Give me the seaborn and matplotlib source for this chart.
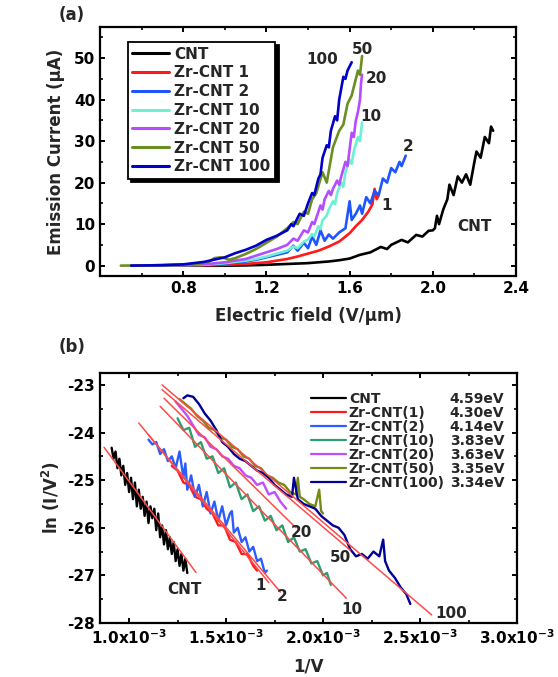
import matplotlib
matplotlib.use("Agg")
import matplotlib.pyplot as plt
import numpy as np
import pandas as pd
import seaborn as sns
from matplotlib.ticker import MultipleLocator, FixedLocator, FuncFormatter
from matplotlib.lines import Line2D

# ---------------- Panel (a): emission current vs field ----------------
series_a = ["CNT", "Zr-CNT 1", "Zr-CNT 2", "Zr-CNT 10", "Zr-CNT 20", "Zr-CNT 50", "Zr-CNT 100"]
colors_a = ["#000000", "#ff1a1a", "#1f55ff", "#6df0d6", "#b44cff", "#6b8e23", "#0000c8"]

cnt_E = [0.55, 0.8, 1.0, 1.1, 1.2, 1.3, 1.4, 1.5, 1.55, 1.6, 1.65, 1.7, 1.75, 1.78, 1.8, 1.85, 1.88,
         1.92, 1.95, 1.98, 2.0, 2.01, 2.02, 2.03, 2.05, 2.07, 2.08, 2.1, 2.12, 2.14, 2.16, 2.18, 2.2,
         2.21, 2.23, 2.25, 2.27, 2.28, 2.29]
cnt_I = [0, 0, 0, 0.05, 0.2, 0.4, 0.6, 1.0, 1.3, 1.7, 2.6, 3.2, 4.5, 4.0, 5.0, 6.2, 5.6,
         7.4, 7.0, 8.4, 8.5, 9.0, 12.0, 10.0, 13.5, 16.0, 19.5, 17.0, 21.5, 20.0, 22.0, 19.5, 25.0,
         27.5, 26.0, 31.0, 29.5, 33.5, 32.5]

z1_E = [0.55, 0.9, 1.0, 1.1, 1.2, 1.25, 1.3, 1.35, 1.4, 1.45, 1.5, 1.55, 1.6, 1.63, 1.66, 1.69,
        1.71, 1.72, 1.73, 1.74]
z1_I = [0, 0.1, 0.2, 0.4, 0.8, 1.2, 1.6, 2.2, 2.9, 3.6, 4.6, 5.8, 7.8, 9.5, 11.0, 13.0,
        14.8, 18.5, 16.0, 17.0]

z2_E = [0.55, 0.9, 1.0, 1.1, 1.15, 1.2, 1.25, 1.3, 1.33, 1.35, 1.38, 1.4, 1.42, 1.44, 1.46, 1.48,
        1.5, 1.52, 1.55, 1.58, 1.6, 1.61, 1.63, 1.65, 1.66, 1.68, 1.7, 1.72, 1.74, 1.76, 1.78,
        1.8, 1.82, 1.84, 1.85, 1.87]
z2_I = [0, 0.2, 0.5, 1.0, 1.4, 2.0, 2.6, 3.2, 4.8, 3.6, 5.5, 4.2, 7.0, 5.0, 8.5, 6.0,
        7.5, 6.5, 8.0, 9.0, 15.5, 11.0, 12.5, 14.5, 12.5, 16.5, 15.0, 18.0, 17.0, 21.0, 20.0,
        23.5, 22.5, 25.0, 24.0, 26.5]

z10_E = [0.55, 0.9, 1.0, 1.1, 1.15, 1.2, 1.25, 1.3, 1.33, 1.35, 1.38, 1.4, 1.42, 1.43, 1.45, 1.46,
         1.47, 1.49, 1.5, 1.52, 1.53, 1.54, 1.56, 1.57, 1.58, 1.6, 1.61, 1.62, 1.64, 1.65, 1.66]
z10_I = [0, 0.2, 0.6, 1.2, 1.6, 2.2, 2.9, 3.6, 4.6, 4.2, 5.8, 6.3, 7.6, 7.0, 9.5, 8.8,
         11.0, 12.0, 13.5, 15.5, 14.8, 17.5, 20.0, 19.0, 22.5, 25.5, 24.5, 27.5, 31.0, 30.0, 34.5]

z20_E = [0.55, 0.9, 1.0, 1.1, 1.15, 1.2, 1.25, 1.3, 1.33, 1.35, 1.38, 1.4, 1.42, 1.43, 1.46, 1.47,
         1.48, 1.5, 1.51, 1.52, 1.54, 1.55, 1.56, 1.58, 1.59, 1.6, 1.61, 1.62, 1.63, 1.64, 1.65,
         1.655, 1.66]
z20_I = [0, 0.3, 0.8, 1.6, 2.4, 3.2, 4.0, 5.0, 6.5, 6.0, 8.5, 8.0, 10.5, 10.0, 14.5, 13.5,
         16.0, 18.0, 17.0, 18.5, 20.5, 19.5, 21.5, 25.0, 24.0, 28.0, 32.0, 31.0, 35.0, 37.0, 40.0,
         44.0, 46.0]

z50_E = [0.5, 0.7, 0.85, 0.92, 0.95, 0.98, 1.0, 1.02, 1.05, 1.1, 1.15, 1.2, 1.25, 1.3, 1.33, 1.35,
         1.38, 1.4, 1.42, 1.44, 1.47, 1.49, 1.52, 1.55, 1.57, 1.59, 1.61, 1.62, 1.64, 1.65, 1.66]
z50_I = [0, 0.1, 0.3, 0.8, 1.8, 2.0, 1.8, 1.4, 1.8, 2.8, 4.0, 5.5, 7.0, 9.0, 10.5, 10.0,
         13.0, 12.5, 16.0, 17.5, 22.5, 20.0, 28.5, 32.5, 34.0, 39.0, 41.0, 43.0, 47.0, 46.0, 50.5]

z100_E = [0.55, 0.7, 0.8, 0.9, 1.0, 1.05, 1.1, 1.15, 1.2, 1.25, 1.3, 1.32, 1.33, 1.36, 1.38, 1.4,
          1.42, 1.43, 1.45, 1.46, 1.47, 1.49, 1.5, 1.51, 1.53, 1.54, 1.55, 1.57, 1.58, 1.59, 1.61]
z100_I = [0, 0.1, 0.3, 0.9, 2.0, 3.0, 3.8, 4.8, 6.2, 7.2, 8.5, 10.0, 9.5, 12.5, 12.0, 15.0,
          17.5, 17.0, 21.0, 22.0, 26.0, 29.0, 28.5, 32.5, 36.0, 35.0, 40.0, 45.5, 45.0, 47.0, 49.0]

labels_a = ["100", "50", "20", "10", "2", "1", "CNT"]
labels_a_x = [1.47, 1.66, 1.73, 1.70, 1.88, 1.78, 2.20]
labels_a_y = [49.7, 52.0, 45.0, 36.0, 28.8, 14.5, 9.4]

# ---------------- Panel (b): F-N plot ----------------
series_b = ["CNT", "Zr-CNT(1)", "Zr-CNT(2)", "Zr-CNT(10)", "Zr-CNT(20)", "Zr-CNT(50)", "Zr-CNT(100)"]
colors_b = ["#000000", "#ff1a1a", "#2a5cff", "#2e9e6e", "#c04cff", "#738a14", "#000096"]
work_fn = ["4.59eV", "4.30eV", "4.14eV", "3.83eV", "3.63eV", "3.35eV", "3.34eV"]

# x values in units of 1e-3 (1/V)
cntb_x = [0.91, 0.92, 0.93, 0.94, 0.95, 0.96, 0.97, 0.98, 0.99, 1.00, 1.01, 1.02, 1.03, 1.04,
          1.05, 1.06, 1.07, 1.08, 1.09, 1.10, 1.11, 1.12, 1.13, 1.14, 1.15, 1.16, 1.17, 1.18,
          1.19, 1.20, 1.21, 1.22, 1.23, 1.24, 1.25, 1.26, 1.27, 1.28, 1.29, 1.30]
cntb_y = [-24.32, -24.55, -24.40, -24.75, -24.55, -24.90, -24.70, -25.10, -24.85, -25.25,
          -24.95, -25.40, -25.05, -25.55, -25.20, -25.60, -25.35, -25.75, -25.45, -25.90,
          -25.55, -25.80, -25.60, -26.05, -25.70, -26.20, -25.95, -26.35, -26.05, -26.45,
          -26.20, -26.55, -26.30, -26.70, -26.45, -26.80, -26.55, -26.90, -26.65, -26.95]

z1b_x = [1.22, 1.25, 1.28, 1.31, 1.34, 1.37, 1.40, 1.43, 1.46, 1.49, 1.52, 1.55, 1.58, 1.61,
         1.64, 1.66]
z1b_y = [-24.70, -24.80, -25.05, -25.10, -25.35, -25.40, -25.60, -25.70, -25.95, -25.95,
         -26.25, -26.30, -26.55, -26.55, -26.80, -26.90]

z2b_x = [1.10, 1.12, 1.14, 1.16, 1.18, 1.20, 1.22, 1.24, 1.26, 1.28, 1.29, 1.30, 1.32, 1.34,
         1.36, 1.38, 1.40, 1.42, 1.44, 1.46, 1.48, 1.50, 1.52, 1.53, 1.54, 1.56, 1.58, 1.60,
         1.62, 1.64, 1.66, 1.68, 1.70, 1.71]
z2b_y = [-24.15, -24.25, -24.20, -24.45, -24.35, -24.60, -24.50, -24.75, -24.40, -24.95,
         -24.65, -25.20, -24.90, -25.35, -25.10, -25.55, -25.25, -25.70, -25.45, -25.85,
         -25.55, -25.95, -25.70, -25.65, -26.10, -26.00, -26.30, -26.20, -26.50, -26.40,
         -26.70, -26.65, -26.95, -26.90]

z10b_x = [1.25, 1.28, 1.31, 1.34, 1.37, 1.40, 1.43, 1.46, 1.49, 1.52, 1.55, 1.58, 1.61, 1.64,
          1.67, 1.70, 1.73, 1.76, 1.79, 1.82, 1.85, 1.88, 1.91, 1.94, 1.97, 2.00, 2.02, 2.04]
z10b_y = [-23.70, -23.95, -23.90, -24.30, -24.20, -24.55, -24.50, -24.85, -24.75, -25.15,
          -25.05, -25.40, -25.30, -25.65, -25.55, -25.85, -25.75, -26.05, -25.95, -26.30,
          -26.20, -26.50, -26.45, -26.75, -26.70, -27.00, -26.95, -27.20]

z20b_x = [1.24, 1.27, 1.30, 1.33, 1.36, 1.39, 1.42, 1.45, 1.48, 1.51, 1.54, 1.57, 1.60, 1.63,
          1.66, 1.69, 1.72, 1.75, 1.78, 1.81]
z20b_y = [-23.35, -23.50, -23.65, -23.85, -24.05, -24.10, -24.30, -24.35, -24.50, -24.55,
          -24.70, -24.75, -24.90, -24.95, -25.10, -25.05, -25.30, -25.25, -25.45, -25.60]

z50b_x = [1.26, 1.29, 1.32, 1.35, 1.38, 1.41, 1.44, 1.47, 1.50, 1.53, 1.56, 1.59, 1.62, 1.65,
          1.68, 1.71, 1.74, 1.77, 1.80, 1.83, 1.86, 1.87, 1.88, 1.90, 1.93, 1.96, 1.98, 1.99, 2.00]
z50b_y = [-23.30, -23.40, -23.50, -23.65, -23.75, -23.90, -23.95, -24.10, -24.15, -24.30,
          -24.35, -24.50, -24.55, -24.70, -24.75, -24.90, -24.95, -25.05, -25.10, -25.25,
          -25.30, -24.95, -25.35, -25.40, -25.50, -25.55, -25.20, -25.65, -25.70]

z100b_x = [1.28, 1.30, 1.33, 1.36, 1.39, 1.42, 1.45, 1.48, 1.51, 1.54, 1.57, 1.60, 1.63, 1.66,
           1.69, 1.72, 1.75, 1.78, 1.81, 1.84, 1.85, 1.87, 1.90, 1.93, 1.96, 1.99, 2.02, 2.05,
           2.08, 2.11, 2.14, 2.17, 2.20, 2.23, 2.26, 2.29, 2.31, 2.32, 2.34, 2.37, 2.40, 2.43, 2.45]
z100b_y = [-23.28, -23.22, -23.25, -23.40, -23.60, -23.75, -23.95, -24.20, -24.30, -24.45,
           -24.55, -24.60, -24.70, -24.80, -24.85, -24.95, -25.10, -25.20, -25.30, -25.35,
           -24.95, -25.40, -25.50, -25.55, -25.60, -25.75, -25.85, -25.95, -26.00, -26.15,
           -26.45, -26.60, -26.55, -26.65, -26.50, -26.60, -26.25, -26.70, -26.90, -27.05,
           -27.25, -27.40, -27.60]

# linear fits: start / end points (x in 1e-3 units)
fit_names = ["CNT", "Zr-CNT(1)", "Zr-CNT(2)", "Zr-CNT(10)", "Zr-CNT(20)", "Zr-CNT(50)", "Zr-CNT(100)"]
fit_x0 = [0.871, 1.05, 1.10, 1.16, 1.18, 1.17, 1.17]
fit_y0 = [-24.31, -23.80, -24.05, -23.45, -23.28, -23.10, -23.00]
fit_x1 = [1.345, 1.72, 1.78, 2.12, 1.86, 2.14, 2.56]
fit_y1 = [-26.94, -27.15, -27.35, -27.48, -26.00, -26.47, -27.83]

labels_b = ["CNT", "1", "2", "20", "50", "10", "100"]
labels_b_x = [1.285, 1.68, 1.79, 1.89, 2.09, 2.15, 2.66]
labels_b_y = [-27.30, -27.22, -27.45, -26.10, -26.62, -27.72, -27.80]

# ---------------- style ----------------
sns.set_style("ticks")
plt.rcParams["font.family"] = ["DejaVu Sans"]
plt.rcParams["font.weight"] = "bold"
plt.rcParams["axes.labelweight"] = "bold"
plt.rcParams["mathtext.default"] = "bf"
plt.rcParams["axes.linewidth"] = 1.6
for ax_ in ("xtick", "ytick"):
    plt.rcParams[f"{ax_}.direction"] = "in"
    plt.rcParams[f"{ax_}.major.size"] = 3.5
    plt.rcParams[f"{ax_}.minor.size"] = 2.0
    plt.rcParams[f"{ax_}.major.width"] = 1.4
    plt.rcParams[f"{ax_}.minor.width"] = 1.2
    plt.rcParams[f"{ax_}.labelsize"] = 11
    plt.rcParams[f"{ax_}.color"] = "black"
plt.rcParams["xtick.top"] = True
plt.rcParams["ytick.right"] = True

W, H = 558, 677
fig = plt.figure(figsize=(W / 100, H / 100), dpi=100)
fig.patch.set_facecolor("white")


def box(l, t, r, b):
    return [l / W, 1 - b / H, (r - l) / W, (b - t) / H]


ax1 = fig.add_axes(box(100, 27, 516, 276))
ax2 = fig.add_axes(box(100, 373, 517, 623))

# ---- panel (a) ----
xs_a = [cnt_E, z1_E, z2_E, z10_E, z20_E, z50_E, z100_E]
ys_a = [cnt_I, z1_I, z2_I, z10_I, z20_I, z50_I, z100_I]
df_a = pd.concat([pd.DataFrame({"field": x, "current": y, "series": s})
                  for x, y, s in zip(xs_a, ys_a, series_a)], ignore_index=True)
sns.lineplot(data=df_a, x="field", y="current", hue="series", hue_order=series_a,
             palette=colors_a, sort=False, estimator=None, lw=1.9, legend=False, ax=ax1)

ax1.set_xlim(0.4, 2.4)
ax1.set_ylim(-2.5, 57.5)
ax1.xaxis.set_major_locator(FixedLocator([0.8, 1.2, 1.6, 2.0, 2.4]))
ax1.xaxis.set_minor_locator(MultipleLocator(0.2))
ax1.xaxis.set_major_formatter(FuncFormatter(lambda v, p: f"{v:.1f}"))
ax1.yaxis.set_major_locator(MultipleLocator(10))
ax1.yaxis.set_minor_locator(MultipleLocator(5))
ax1.set_xlabel("Electric field (V/μm)", fontsize=12, fontweight="bold", labelpad=8)
ax1.set_ylabel("Emission Current (μA)", fontsize=12, fontweight="bold", labelpad=6)
for sp in ax1.spines.values():
    sp.set_visible(True)
    sp.set_color("black")

handles_a = [Line2D([], [], color=c, lw=2.2) for c in colors_a]
leg_a = ax1.legend(handles_a, series_a, loc="upper left", bbox_to_anchor=(0.067, 0.94),
                   borderaxespad=0, handlelength=2.4, handletextpad=0.35,
                   borderpad=0.3, labelspacing=0.25, frameon=True, fancybox=False,
                   shadow={"ox": 2.5, "oy": -2.5, "facecolor": "black", "edgecolor": "black", "alpha": 1},
                   prop={"weight": "bold", "size": 11})
leg_a.get_frame().set_edgecolor("black")
leg_a.get_frame().set_linewidth(1.3)
leg_a.get_frame().set_alpha(1)

for t, x, y in zip(labels_a, labels_a_x, labels_a_y):
    ax1.text(x, y, t, ha="center", va="center", fontsize=11, fontweight="bold")

# ---- panel (b) ----
xs_b = [cntb_x, z1b_x, z2b_x, z10b_x, z20b_x, z50b_x, z100b_x]
ys_b = [cntb_y, z1b_y, z2b_y, z10b_y, z20b_y, z50b_y, z100b_y]
df_b = pd.concat([pd.DataFrame({"invV": np.array(x) * 1e-3, "lnIV2": y, "series": s})
                  for x, y, s in zip(xs_b, ys_b, series_b)], ignore_index=True)
sns.lineplot(data=df_b, x="invV", y="lnIV2", hue="series", hue_order=series_b,
             palette=colors_b, sort=False, estimator=None, lw=1.7, legend=False, ax=ax2)

df_fit = pd.concat([pd.DataFrame({"invV": np.array([a, b]) * 1e-3, "lnIV2": [c, d], "fit": n})
                    for a, b, c, d, n in zip(fit_x0, fit_x1, fit_y0, fit_y1, fit_names)],
                   ignore_index=True)
sns.lineplot(data=df_fit, x="invV", y="lnIV2", units="fit", estimator=None, sort=False,
             color="#ff4a4a", lw=1.1, legend=False, ax=ax2)

ax2.set_xlim(0.85e-3, 3.0e-3)
ax2.set_ylim(-28, -22.75)
ax2.xaxis.set_major_locator(FixedLocator([1.0e-3, 1.5e-3, 2.0e-3, 2.5e-3, 3.0e-3]))
ax2.xaxis.set_minor_locator(MultipleLocator(0.25e-3))
ax2.xaxis.set_major_formatter(FuncFormatter(lambda v, p: f"{v * 1e3:.1f}x10$^{{-3}}$"))
ax2.yaxis.set_major_locator(MultipleLocator(1))
ax2.yaxis.set_minor_locator(MultipleLocator(0.5))
ax2.yaxis.set_major_formatter(FuncFormatter(lambda v, p: f"{int(round(v))}"))
ax2.set_xlabel("1/V", fontsize=12, fontweight="bold", labelpad=8)
ax2.set_ylabel("ln (I/V$^{2}$)", fontsize=12, fontweight="bold", labelpad=4)
for sp in ax2.spines.values():
    sp.set_visible(True)
    sp.set_color("black")

handles_b = [Line2D([], [], color=c, lw=1.6) for c in colors_b] + \
            [Line2D([], [], linestyle="none") for _ in colors_b]
leg_b = ax2.legend(handles_b, series_b + work_fn, ncol=2, loc="upper left",
                   bbox_to_anchor=(0.50, 0.935), borderaxespad=0, frameon=False,
                   handlelength=2.5, handletextpad=0.2, columnspacing=-2.35,
                   labelspacing=0.0, borderpad=0.2, prop={"weight": "bold", "size": 10})

for t, x, y in zip(labels_b, labels_b_x, labels_b_y):
    ax2.text(x * 1e-3, y, t, ha="center", va="center", fontsize=11, fontweight="bold")

fig.text(0.129, 0.978, "(a)", ha="center", va="center", fontsize=12, fontweight="bold")
fig.text(0.129, 0.487, "(b)", ha="center", va="center", fontsize=12, fontweight="bold")

fig.savefig("out.png", dpi=100, facecolor="white")
